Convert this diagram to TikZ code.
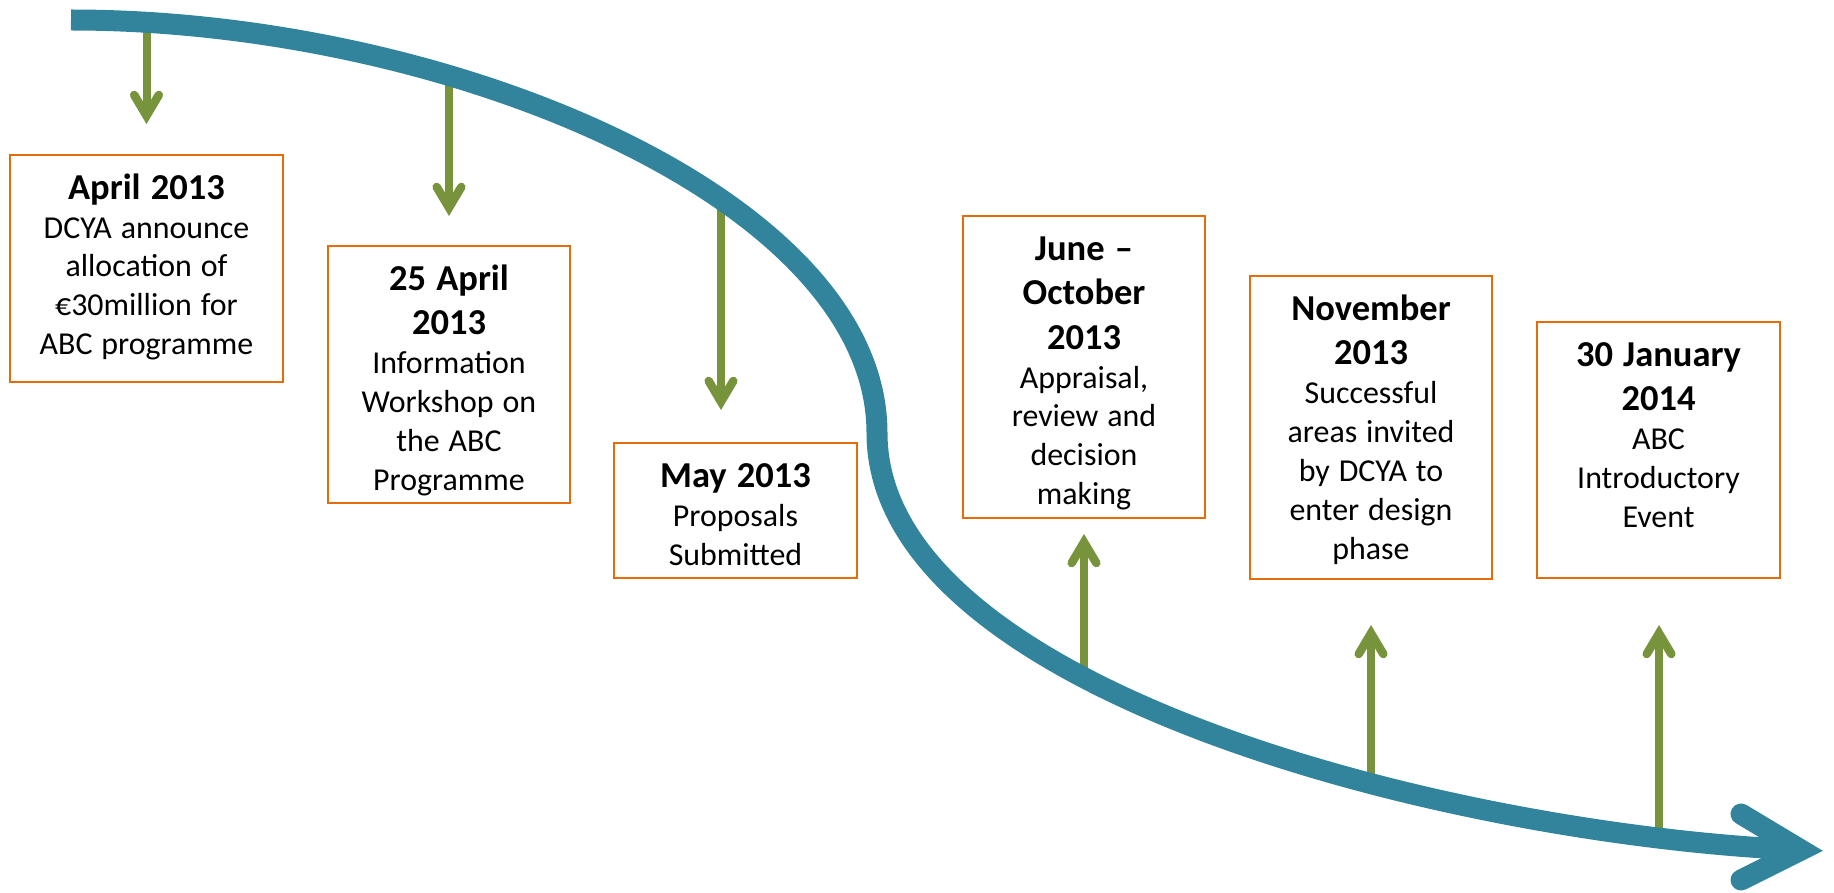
\documentclass[tikz,border=0pt]{standalone}
\usepackage{fontspec}
\setmainfont{Carlito}
\usetikzlibrary{calc}
\setlength\parindent{0pt}
\definecolor{tealc}{HTML}{31849B}
\definecolor{greenc}{HTML}{77933C}
\definecolor{orangec}{HTML}{E46C0A}
\newcommand\ttl{\fontsize{36.5}{44.5}\selectfont\bfseries\spaceskip=0.28em\relax}
\newcommand\bdy{\fontsize{31.9}{38.9}\selectfont\spaceskip=0.28em\relax}
\newcommand\fst{\rule{0pt}{30pt}}
\begin{document}
\begin{tikzpicture}[x=1pt,y=-1pt,
  box/.style={draw=orangec, line width=2pt, inner sep=0pt, outer sep=0pt},
  txt/.style={anchor=north, align=center, inner sep=0pt, text width=236pt},
  shaft/.style={draw=greenc, line width=8pt},
  ghead/.style={draw=greenc, line width=8.5pt, line cap=round, line join=miter},
  tline/.style={draw=tealc, line width=21pt},
  thead/.style={draw=tealc, line width=21pt, line cap=round, line join=miter}]
\useasboundingbox (0,0) rectangle (1834,893);

% boxes
\node[box, minimum width=273pt, minimum height=227pt] (b1) at (146.5,268.5) {};
\node[box, minimum width=242pt, minimum height=257pt] (b2) at (449,374.5) {};
\node[box, minimum width=243pt, minimum height=135pt] (b3) at (735.5,510.5) {};
\node[box, minimum width=242pt, minimum height=302pt] (b4) at (1084,367) {};
\node[box, minimum width=242pt, minimum height=303pt] (b5) at (1371,427.5) {};
\node[box, minimum width=243pt, minimum height=256pt] (b6) at (1658.5,450) {};

% texts
\node[txt, text width=266pt] (t1) at ($(b1.north)+(0,14)$)
  {{\ttl\fst April 2013\par}\bdy DCYA announce\\allocation of\\€30million for\\ABC programme\par};
\node[txt] (t2) at ($(b2.north)+(0,14)$)
  {{\ttl\fst 25 April\\2013\par}\bdy Information\\Workshop on\\the ABC\\Programme\par};
\node[txt] (t3) at ($(b3.north)+(0,14)$)
  {{\ttl\fst May 2013\par}\bdy Proposals\\Submitted\par};
\node[txt] (t4) at ($(b4.north)+(0,14)$)
  {{\ttl\fst June –\\October\\2013\par}\bdy Appraisal,\\review and\\decision\\making\par};
\node[txt] (t5) at ($(b5.north)+(0,14)$)
  {{\ttl\fst November\\2013\par}\bdy Successful\\areas invited\\by DCYA to\\enter design\\phase\par};
\node[txt] (t6) at ($(b6.north)+(0,14)$)
  {{\ttl\fst 30 January\\2014\par}\bdy ABC\\Introductory\\Event\par};

% green arrows: start on the curve, vertex near the box
\coordinate (s1) at (146.5,20);   \coordinate (v1) at (146.5,115.7);
\coordinate (s2) at (449,77);     \coordinate (v2) at (449,207.7);
\coordinate (s3) at (721,200);    \coordinate (v3) at (721,401.7);
\coordinate (s4) at (1084,675);   \coordinate (v4) at (1084,542.3);
\coordinate (s5) at (1371,789);   \coordinate (v5) at (1371,633.3);
\coordinate (s6) at (1659,841);   \coordinate (v6) at (1659,633.3);
\foreach \i in {1,2,3}{
  \draw[shaft] (s\i) -- (v\i);
  \draw[ghead] ($(v\i)+(-12.3,-20.7)$) -- (v\i) -- ($(v\i)+(12.3,-20.7)$);
}
\foreach \i in {4,5,6}{
  \draw[shaft] (s\i) -- (v\i);
  \draw[ghead] ($(v\i)+(-12.3,20.7)$) -- (v\i) -- ($(v\i)+(12.3,20.7)$);
}

% teal timeline
\coordinate (ts) at (71,20);
\coordinate (tm) at (877,433);
\coordinate (te) at (1801,850);
\draw[tline] (ts) .. controls (450,20) and (877,200) .. (tm)
  .. controls (877,690) and (1450,835) .. (te);
\draw[thead] (1741,814) -- (te) -- (1741,880);
\end{tikzpicture}
\end{document}
